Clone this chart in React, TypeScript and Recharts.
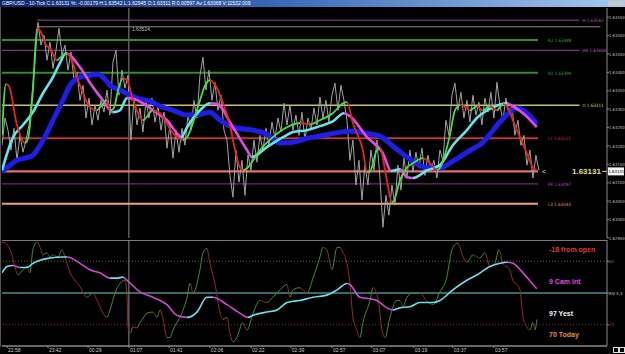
import React from "react";
import { ComposedChart, Line, XAxis, YAxis, ReferenceLine } from "recharts";

// time axis (tick index units, one unit ~ one tick bucket)
const timeTicks = [1.7, 15.3, 28.7, 42.3, 55.7, 69.3, 83, 96.3, 110, 123.3, 137.3, 150.3, 164];
const timeLabels = ["22:58", "23:42", "00:29", "01:07", "01:41", "02:06", "02:22", "02:39", "02:57", "03:07", "03:19", "03:37", "03:57"];

// raw 10-tick closes (gray)
const priceTicks = [
  1.63202, 1.63276, 1.63243, 1.63189, 1.63248, 1.63161, 1.63229, 1.63183, 1.63216, 1.63257,
  1.63338, 1.63433, 1.63536, 1.63474, 1.63501, 1.63433, 1.63482, 1.63411, 1.6346, 1.6352,
  1.63447, 1.63474, 1.63406, 1.63455, 1.63379, 1.63401, 1.63324, 1.63365, 1.63276, 1.6333,
  1.63257, 1.63311, 1.6327, 1.63324, 1.63292, 1.63352, 1.63284, 1.63428, 1.6346, 1.63338,
  1.63406, 1.63357, 1.63392, 1.63216, 1.6333, 1.63257, 1.63303, 1.63238, 1.63324, 1.63276,
  1.6333, 1.63265, 1.63311, 1.63243, 1.63292, 1.63194, 1.63257, 1.63167, 1.63243, 1.63183,
  1.63248, 1.63202, 1.63284, 1.63243, 1.63324, 1.63276, 1.63392, 1.63441, 1.63352, 1.63406,
  1.63324, 1.63373, 1.63297, 1.63338, 1.63243, 1.63216, 1.6312, 1.63061, 1.63189, 1.63102,
  1.63161, 1.63066, 1.63175, 1.63134, 1.63216, 1.63156, 1.63229, 1.63189, 1.63248, 1.63202,
  1.63265, 1.63221, 1.63276, 1.63238, 1.63316, 1.63257, 1.63311, 1.63243, 1.63284, 1.63229,
  1.63292, 1.63216, 1.63276, 1.63243, 1.63303, 1.63257, 1.63333, 1.63276, 1.63324, 1.63265,
  1.63338, 1.63371, 1.63297, 1.63365, 1.63324, 1.6327, 1.63161, 1.63216, 1.63094, 1.63161,
  1.63053, 1.63148, 1.63094, 1.63189, 1.63134, 1.63216, 1.63113, 1.62979, 1.63066, 1.63012,
  1.63094, 1.63039, 1.63148, 1.6308, 1.63167, 1.63113, 1.63189, 1.63129, 1.63183, 1.6314,
  1.63194, 1.6312, 1.63175, 1.63134, 1.63161, 1.63113, 1.63189, 1.63161, 1.6327, 1.63229,
  1.63338, 1.63371, 1.63297, 1.63346, 1.63276, 1.63324, 1.63265, 1.63338, 1.63284, 1.63319,
  1.63257, 1.6333, 1.63292, 1.63346, 1.63276, 1.63373, 1.63311, 1.6327, 1.6333, 1.63284,
  1.63311, 1.63229, 1.6327, 1.63202, 1.63229, 1.63148, 1.63189, 1.63113, 1.63175, 1.63134,
];

// [tick index, price]
const slowMa = [
  [0, 1.63129], [2.7, 1.63148], [5, 1.63161], [7.7, 1.63167], [10.3, 1.63175], [13.7, 1.63216],
  [17, 1.6327], [20.3, 1.63324], [22.7, 1.63365], [26, 1.63387], [29.3, 1.63392], [31.7, 1.63395],
  [33.7, 1.63387], [36, 1.63365], [39.3, 1.63352], [42.7, 1.63338], [46, 1.63327], [49.3, 1.63322],
  [52.7, 1.63308], [57, 1.63297], [61.7, 1.63284], [66, 1.63286], [69.3, 1.63292], [72.7, 1.6327],
  [77, 1.63251], [83.7, 1.63243], [88.3, 1.63232], [92.7, 1.63208], [97, 1.6321], [101.7, 1.63221],
  [106, 1.63227], [111, 1.63235], [116, 1.6324], [121, 1.63235], [126, 1.63227], [130.3, 1.632],
  [135, 1.6317], [141, 1.63142], [146, 1.6314], [150.3, 1.63159], [155, 1.63183], [160.3, 1.6321],
  [166, 1.63265], [169.3, 1.63292], [171.7, 1.63303], [175, 1.63289], [178.3, 1.63259],
];

const midMa = [
  [0, 1.63134], [3.7, 1.63224], [7, 1.63257], [10.3, 1.63292], [13.7, 1.63344], [17, 1.63387],
  [19.3, 1.63425], [21.3, 1.63452], [26, 1.63414], [30.3, 1.6336], [33.7, 1.63324], [37, 1.63292],
  [39.3, 1.63297], [41.7, 1.6333], [44.3, 1.63327], [47, 1.63316], [51.7, 1.63289], [55, 1.6327],
  [58.3, 1.63235], [59.7, 1.63224], [61.7, 1.63251], [66, 1.63297], [69.3, 1.63316], [71.7, 1.63314],
  [77, 1.63251], [81.7, 1.63189], [83.3, 1.6317], [88.3, 1.63197], [93.7, 1.63224], [97, 1.63238],
  [101.7, 1.63243], [106, 1.63254], [110.3, 1.63267], [114, 1.63289], [116, 1.63281], [121.7, 1.63224],
  [127, 1.6318], [129.7, 1.63132], [132.7, 1.63137], [135, 1.63115], [137, 1.63113], [141.7, 1.63134],
  [146, 1.63148], [150.3, 1.63202], [155, 1.63243], [158.3, 1.63276], [163.7, 1.63305], [168.3, 1.63316],
  [170.3, 1.63308], [173.7, 1.63289], [178.3, 1.63251],
];

const fastMa = [
  [0, 1.63229], [1.3, 1.63368], [2.3, 1.63363], [5, 1.63257], [7.7, 1.63208], [8.7, 1.63221],
  [10.3, 1.63352], [11.7, 1.6352], [13, 1.63509], [14.7, 1.63474], [16, 1.63466], [18.3, 1.63433],
  [20.3, 1.63447], [21.7, 1.63452], [23.3, 1.63433], [25, 1.63387], [27, 1.63344], [29.3, 1.63305],
  [31.7, 1.63297], [32.7, 1.63305], [35, 1.63324], [36, 1.63297], [37.3, 1.63303], [38.7, 1.63352],
  [40.3, 1.63384], [41.7, 1.63379], [43.7, 1.63324], [46, 1.63278], [47, 1.6327], [50.3, 1.63297],
  [52.7, 1.63289], [57, 1.63235], [60.3, 1.63216], [61.7, 1.63224], [66, 1.63324], [67.7, 1.63365],
  [69.3, 1.63379], [71.7, 1.63357], [73.7, 1.63316], [76, 1.63257], [77.7, 1.63189], [79.3, 1.63142],
  [80.3, 1.63134], [81.7, 1.6314], [86, 1.63189], [90.3, 1.63224], [95, 1.63251], [99.3, 1.63262],
  [102.7, 1.63259], [106, 1.6327], [110.3, 1.63289], [113.7, 1.63316], [115, 1.63319], [117, 1.63262],
  [120.3, 1.63189], [121.7, 1.63129], [122.7, 1.63131], [125, 1.63189], [126, 1.63194], [128.3, 1.63107],
  [130, 1.63047], [130.7, 1.63053], [132.7, 1.63107], [135, 1.63142], [137, 1.63153], [140.3, 1.63167],
  [142.7, 1.63153], [145, 1.63134], [146, 1.6314], [149.3, 1.63229], [151, 1.63297], [152.7, 1.63311],
  [154.7, 1.63305], [156, 1.63297], [158.3, 1.63308], [160.3, 1.63297], [162.7, 1.63308], [165, 1.63297],
  [167, 1.63314], [168.7, 1.63305], [170.3, 1.6327], [172.7, 1.63224], [175, 1.6318], [177, 1.63142],
  [178.3, 1.63134],
];

// oscillator pane [tick index, value 0..100]
const fastOsc = [
  [0, 97], [0.3, 98], [2.7, 91], [4.3, 75], [5.3, 67], [7, 72], [8.3, 75], [9.3, 69], [10.3, 91],
  [11.7, 98], [12.7, 93], [13.7, 86], [15, 88], [16, 84], [17, 86], [18.7, 84], [20, 91], [21, 84],
  [22.7, 69], [24.3, 62], [26, 56], [28.3, 46], [30.3, 50], [31.7, 43], [33.7, 31], [35, 27], [36, 34],
  [37.7, 50], [39.3, 59], [41, 62], [41.7, 46], [42, 18], [42.7, 12], [43.7, 18], [45, 17], [46, 22],
  [47, 26], [48.3, 31], [50.3, 32], [51.7, 27], [52.7, 34], [53.7, 25], [55, 8], [56, 8], [57, 15],
  [58.3, 22], [59.3, 27], [61.7, 46], [62.7, 59], [63.7, 50], [66, 72], [67, 88], [68.3, 92], [69.3, 78],
  [71, 59], [72.7, 31], [73.7, 25], [75, 27], [76, 12], [77, 4], [78.3, 8], [80.3, 22], [81.7, 15],
  [83.7, 31], [86, 43], [88.3, 41], [90.3, 46], [92.7, 53], [95, 58], [96, 46], [97, 53], [99.3, 55],
  [101.7, 50], [103.7, 64], [106, 84], [107, 93], [108.3, 91], [110, 72], [111.7, 93], [112.7, 93],
  [113.7, 88], [115, 78], [116, 59], [117, 27], [118.3, 15], [119.3, 8], [120.3, 22], [122.7, 43],
  [123.7, 55], [125.3, 46], [126.7, 15], [127.7, 8], [129.3, 27], [131.7, 43], [132.7, 43], [133.7, 37],
  [135, 46], [137, 50], [139.3, 50], [141.7, 42], [143.7, 39], [146, 51], [148.3, 65], [149.3, 81],
  [150.3, 93], [152, 97], [153.7, 84], [155, 79], [157, 86], [159.3, 83], [161, 88], [162.7, 75],
  [164.3, 78], [165.7, 91], [167, 78], [169.3, 72], [170.3, 62], [171.7, 58], [172.7, 53], [173.7, 27],
  [175, 18], [176, 15], [177, 22], [177.7, 15], [178.3, 25],
];

const slowOsc = [
  [0, 69], [1.7, 75], [3.7, 76], [6, 74], [8.3, 74], [10.3, 78], [12.7, 81], [16, 83], [20.3, 84],
  [21.7, 84], [26, 78], [29.3, 72], [32.7, 69], [36, 64], [38.3, 64], [40.3, 65], [41.7, 62], [46, 51],
  [50.3, 46], [55, 39], [58.3, 29], [61.7, 27], [65, 32], [68.3, 46], [70.3, 46], [75, 39], [79.3, 31],
  [82, 27], [83.7, 29], [88.3, 32], [91.7, 34], [95, 41], [99.3, 43], [103.7, 46], [108.3, 48],
  [111.7, 53], [115, 59], [116, 58], [119.3, 46], [121.7, 45], [125, 43], [128.3, 36], [130.3, 34],
  [132.7, 36], [136, 37], [139.3, 41], [143.7, 41], [146, 43], [150.3, 53], [155, 62], [158.3, 67],
  [162.7, 75], [166, 78], [168.3, 79], [170.3, 78], [173.7, 69], [176.7, 59], [178.3, 54],
];

// pivot levels
const levelNames = ["H 1.63542", "R2 1.63488", "H4 1.63460", "R1 1.63399", "O 1.63311", "L1 1.63221", "PP 1.63097", "L3 1.63043"];
const levelValues = [1.63542, 1.63488, 1.6346, 1.63399, 1.63311, 1.63221, 1.63097, 1.63043];
const levelColors = ["#8c4c94", "#2f8f2f", "#8c4c94", "#2f8f2f", "#c4c46a", "#b83a34", "#7c3c84", "#f0a478"];
const levelLabelColors = ["#c050c0", "#3aa03a", "#c050c0", "#3aa03a", "#d0d070", "#c83a30", "#b848b8", "#e89060"];
const levelWidths = [1, 2, 1, 2, 1.5, 2, 1, 2];
const levelStart = [11.7, 0, 0, 0, 0, 0, 0, 0];
const levelEnd = [192.5, 178.7, 192.5, 178.7, 192.5, 178.7, 178.7, 178.7];

const lastPrice = 1.63131;
const crossPrice = 1.63524;
const crossTime = 42.3;

const priceAxisTicks = [1.6295, 1.63, 1.6305, 1.631, 1.6315, 1.632, 1.6325, 1.633, 1.6335, 1.634, 1.6345, 1.635, 1.6355];
const oscTicks = [80, 50, 20];
const oscTickLabels = ["80", "RSI 5,3", "20"];
const oscTickColors = ["#3a9a3a", "#d8d8d8", "#c03030"];

const notes = ["-18 from open", "9 Cam int", "97 Yest", "70 Today"];
const noteColors = ["#e03a30", "#e048e0", "#f0f0f0", "#e8884a"];

const FONT = "'Liberation Sans', Arial, sans-serif";
const NARROW = "'Liberation Sans Narrow', 'DejaVu Sans Condensed', 'Liberation Sans', Arial, sans-serif";

const toPts = (arr: number[][]) => arr.map(([t, v]) => ({ t, v }));
const tickData = priceTicks.map((v, i) => ({ t: i, v }));

function dirStops(arr: number[][], up: string, down: string) {
  const t0 = arr[0][0];
  const span = arr[arr.length - 1][0] - t0;
  const out: React.ReactNode[] = [];
  for (let i = 0; i < arr.length - 1; i++) {
    const c = arr[i + 1][1] >= arr[i][1] ? up : down;
    out.push(<stop key={i + "a"} offset={(arr[i][0] - t0) / span} stopColor={c} />);
    out.push(<stop key={i + "b"} offset={(arr[i + 1][0] - t0) / span} stopColor={c} />);
  }
  return out;
}

const LevelLabel = (text: string, color: string, gap: number) => (props: any) => {
  const vb = props.viewBox || {};
  return (
    <text x={vb.x + vb.width + gap} y={vb.y + 2} fontSize={4.5} fill={color} fontFamily={NARROW}>
      {text}
    </text>
  );
};

const LastPriceLabel = (props: any) => {
  const vb = props.viewBox || {};
  const xe = vb.x + vb.width;
  return (
    <g fontFamily={FONT}>
      <text x={xe + 4} y={vb.y + 2.5} fontSize={7} fill="#e8e8e8">&lt;</text>
      <text x={xe + 34} y={vb.y + 3} fontSize={8} fontWeight="bold" fill="#e6e672">1.63131</text>
      <line x1={xe + 64} x2={xe + 69} y1={vb.y} y2={vb.y} stroke="#ccc" />
      <rect x={xe + 70} y={vb.y - 4} width={16} height={8} fill="#f4f4f4" />
      <text x={xe + 70.5} y={vb.y + 1.6} fontSize={4.2} fill="#000" fontFamily={NARROW}>1.63131</text>
    </g>
  );
};

const CrossLabel = (props: any) => {
  const vb = props.viewBox || {};
  return (
    <text x={vb.x + 3} y={vb.y + 23} fontSize={5} fill="#bdbdbd" fontFamily={FONT}>
      {crossPrice.toFixed(5)}
    </text>
  );
};

const PriceTick = ({ x, y, payload }: any) => (
  <text x={x - 2} y={y + 1.5} fontSize={4.2} fill="#c4c4c4" fontFamily={NARROW}>
    {Number(payload.value).toFixed(5)}
  </text>
);

const TimeTick = ({ x, y, payload }: any) => {
  const i = timeTicks.indexOf(payload.value);
  return (
    <text x={x + 1} y={y + 2} fontSize={5} fill="#c8c8c8" fontFamily={FONT}>
      {timeLabels[i]}
    </text>
  );
};

const OscTick = ({ x, y, payload }: any) => {
  const i = oscTicks.indexOf(payload.value);
  return (
    <text x={x - 2} y={y + 1.5} fontSize={4.2} fill={oscTickColors[i]} fontFamily={NARROW}>
      {oscTickLabels[i]}
    </text>
  );
};

export default function App() {
  const xDomain: [number, number] = [0, 201.7];
  return (
    <div style={{ position: "fixed", left: 0, top: 0, width: 625, height: 354, background: "#000", overflow: "hidden", fontFamily: FONT }}>
      {/* title bar */}
      <div
        style={{
          position: "absolute", left: 0, top: 0, width: 625, height: 7,
          background: "linear-gradient(90deg, #0a246a 0%, #3a6ab8 45%, #a6caf0 100%)",
          color: "#fff", fontSize: 5, lineHeight: "7px", paddingLeft: 2, whiteSpace: "nowrap",
        }}
      >
        GBP/USD - 10-Tick C:1.63131 %: -0.00179 H:1.63542 L:1.62945 O:1.63311 R:0.00597 Av:1.63068 V:11532 009
      </div>
      <div style={{ position: "absolute", left: 608, top: 1, width: 15, height: 5, background: "#c8c8c8" }} />
      <div style={{ position: "absolute", left: 0, top: 7, width: 1, height: 340, background: "#555" }} />

      {/* oscillator pane */}
      <div style={{ position: "absolute", left: 0, top: 240 }}>
        <ComposedChart width={625} height={114} margin={{ top: 0, right: 0, bottom: 0, left: 2 }}>
          <defs>
            <linearGradient id="gFastOsc" x1="0" y1="0" x2="1" y2="0">{dirStops(fastOsc, "#3c8c3c", "#8e2c26")}</linearGradient>
            <linearGradient id="gSlowOsc" x1="0" y1="0" x2="1" y2="0">{dirStops(slowOsc, "#62e6ee", "#d444d4")}</linearGradient>
          </defs>
          <XAxis
            type="number" dataKey="t" domain={xDomain} allowDataOverflow height={8}
            ticks={timeTicks} interval={0} tickSize={2} tick={TimeTick}
            axisLine={{ stroke: "#8a8a8a", strokeWidth: 1.5 }} tickLine={{ stroke: "#8a8a8a" }}
          />
          <YAxis
            orientation="right" width={18} type="number" domain={[0, 100]} allowDataOverflow
            ticks={oscTicks} interval={0} tickSize={2} tick={OscTick}
            axisLine={{ stroke: "#8a8a8a" }} tickLine={{ stroke: "#8a8a8a" }}
          />
          <ReferenceLine y={100} stroke="#7a7a7a" strokeWidth={2} />
          <ReferenceLine y={80} stroke="#3a7a3a" strokeDasharray="1 2" />
          <ReferenceLine y={50} stroke="#4a8c8c" strokeWidth={1.5} />
          <ReferenceLine y={20} stroke="#8c3030" strokeDasharray="1 2" />
          <ReferenceLine x={crossTime} stroke="#8a8a8a" strokeWidth={1} />
          <Line data={toPts(fastOsc)} dataKey="v" type="monotone" stroke="url(#gFastOsc)" strokeWidth={1} dot={false} isAnimationActive={false} />
          <Line data={toPts(slowOsc)} dataKey="v" type="monotone" stroke="url(#gSlowOsc)" strokeWidth={1.6} dot={false} isAnimationActive={false} />
        </ComposedChart>
      </div>

      {/* price pane (drawn after the oscillator pane so its bottom axis label stays visible) */}
      <div style={{ position: "absolute", left: 0, top: 8 }}>
        <ComposedChart width={625} height={234} margin={{ top: 0, right: 0, bottom: 4, left: 2 }}>
          <defs>
            <linearGradient id="gFast" x1="0" y1="0" x2="1" y2="0">{dirStops(fastMa, "#46e046", "#e4261e")}</linearGradient>
            <linearGradient id="gMid" x1="0" y1="0" x2="1" y2="0">{dirStops(midMa, "#62e6ee", "#e44ae4")}</linearGradient>
          </defs>
          <XAxis type="number" dataKey="t" domain={xDomain} hide allowDataOverflow />
          <YAxis
            orientation="right" width={18} type="number" domain={[1.6295, 1.63575]} allowDataOverflow
            ticks={priceAxisTicks} interval={0} tickSize={2} tick={PriceTick}
            axisLine={{ stroke: "#8a8a8a" }} tickLine={{ stroke: "#8a8a8a" }}
          />
          <ReferenceLine x={crossTime} stroke="#8a8a8a" strokeWidth={1} label={CrossLabel} />
          <ReferenceLine
            segment={[{ x: 11.7, y: crossPrice }, { x: 199.5, y: crossPrice }]}
            stroke="#8a8a8a" strokeWidth={1}
          />
          {levelValues.map((v, i) => (
            <ReferenceLine
              key={levelNames[i]}
              segment={[{ x: levelStart[i], y: v }, { x: levelEnd[i], y: v }]}
              stroke={levelColors[i]}
              strokeWidth={levelWidths[i]}
              label={LevelLabel(levelNames[i], levelLabelColors[i], levelEnd[i] > 180 ? 3 : 10)}
            />
          ))}
          <ReferenceLine
            segment={[{ x: 0, y: lastPrice }, { x: 178.7, y: lastPrice }]}
            stroke="#e2706a" strokeWidth={2.2}
            label={LastPriceLabel}
          />
          <Line data={tickData} dataKey="v" type="linear" stroke="#a4a4a4" strokeWidth={1} dot={false} isAnimationActive={false} />
          <Line data={toPts(slowMa)} dataKey="v" type="monotone" stroke="#1e1ee6" strokeWidth={5} dot={false} isAnimationActive={false} />
          <Line data={toPts(midMa)} dataKey="v" type="monotone" stroke="url(#gMid)" strokeWidth={2.6} dot={false} isAnimationActive={false} />
          <Line data={toPts(fastMa)} dataKey="v" type="monotone" stroke="url(#gFast)" strokeWidth={1.8} dot={false} isAnimationActive={false} />
        </ComposedChart>
      </div>

      {notes.map((n, i) => (
        <div
          key={n}
          style={{
            position: "absolute", left: 549, top: [246, 278, 310, 331][i],
            color: noteColors[i], fontSize: 7, fontWeight: 600, whiteSpace: "nowrap", lineHeight: "8px",
          }}
        >
          {n}
        </div>
      ))}
      <div style={{ position: "absolute", left: 613, top: 347, width: 4, height: 4, border: "1px solid #ddd" }} />
      <div style={{ position: "absolute", left: 619, top: 347, width: 4, height: 4, border: "1px solid #ddd" }} />
    </div>
  );
}
